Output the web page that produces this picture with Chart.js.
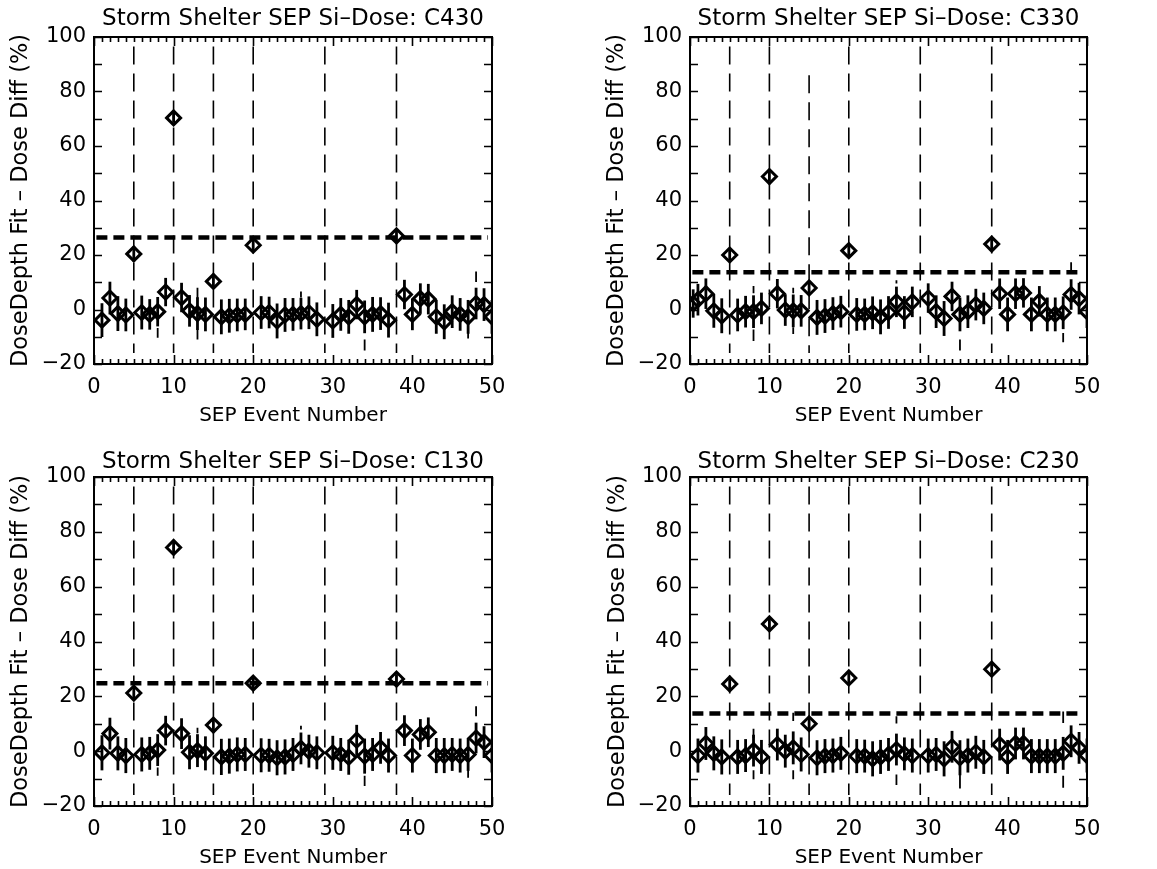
<!DOCTYPE html>
<html>
<head>
<meta charset="utf-8">
<script src="https://cdn.jsdelivr.net/npm/chart.js@4.4.1/dist/chart.umd.min.js"></script>
<style>
  html, body { margin: 0; padding: 0; background: #fff; }
  body { width: 1157px; height: 869px; position: relative; overflow: hidden; }
  .pane { position: absolute; }
</style>
</head>
<body>
<div class="pane" id="p1" style="left:0px;top:0px;width:578px;height:434px;"><canvas id="c1"></canvas></div>
<div class="pane" id="p2" style="left:578px;top:0px;width:579px;height:434px;"><canvas id="c2"></canvas></div>
<div class="pane" id="p3" style="left:0px;top:434px;width:578px;height:435px;"><canvas id="c3"></canvas></div>
<div class="pane" id="p4" style="left:578px;top:434px;width:579px;height:435px;"><canvas id="c4"></canvas></div>
<script>
// ---------------- DATA ----------------
const EVENTS = [1,2,3,4,5,6,7,8,9,10,11,12,13,14,15,16,17,18,19,20,21,22,23,24,25,26,27,28,
                30,31,32,33,34,35,36,37,38,39,40,41,42,43,44,45,46,47,48,49,50];
const EVENTS_C330 = [0.4,1,2,3,4,5,6,7,8,9,10,11,12,13,14,15,16,17,18,19,20,21,22,23,24,25,26,27,28,
                30,31,32,33,34,35,36,37,38,39,40,41,42,43,44,45,46,47,48,49,50];

const X_TICKS = [0, 10, 20, 30, 40, 50];
const Y_TICKS = [-20, 0, 20, 40, 60, 80, 100];

const C430_DIFF = [-3.9,4.2,-1.5,-2.0,20.4,-1.1,-1.8,-0.8,6.4,70.3,4.4,-0.5,-1.5,-1.8,10.3,-2.7,-2.3,-2.0,-1.8,23.6,
                   -1.1,-1.1,-4.2,-2.0,-1.8,-1.5,-1.2,-3.6,
                   -4.2,-1.8,-2.7,1.8,-2.7,-1.8,-1.5,-3.9,27.0,5.5,-1.8,4.0,3.8,-2.7,-4.5,-0.8,-1.8,-2.7,2.2,1.8,-2.7];
const C430_ERR  = [6.2,6.0,6.4,6.0,2.8,6.2,5.6,5.4,5.2,1.8,5.4,5.8,6.0,6.2,2.2,6.4,6.2,6.0,5.8,2.2,
                   6.0,5.8,6.4,6.2,6.0,5.8,6.0,6.2,
                   6.2,6.0,6.2,5.4,6.0,6.4,6.0,6.4,1.8,5.4,5.8,5.6,5.6,6.2,6.4,6.0,6.0,6.2,5.8,6.0,6.2];
const C430_THRESH = 26.4;
const C430_EXTRA_X  = [8, 13, 13, 26, 34, 47, 48];
const C430_EXTRA_LO = [-10.4, 4.0, -11.0, 4.4, -15.0, -10.6, 10.1];
const C430_EXTRA_HI = [-6.8, 8.0, -7.2, 6.6, -11.0, -8.0, 13.9];

const C330_DIFF = [2.2,3.6,5.8,-0.5,-2.3,20.0,-2.0,-0.8,-0.8,0.4,48.8,5.8,-0.2,-0.5,-0.5,7.9,-2.9,-2.4,-1.5,-0.8,21.6,
                   -1.8,-1.8,-1.2,-2.7,-1.1,2.8,-1.1,2.8,
                   4.2,-0.8,-3.3,4.8,-1.8,-0.8,1.8,0.4,24.0,5.8,-1.8,5.8,6.1,-1.8,3.0,-1.8,-1.8,-1.2,5.5,4.0,-0.8];
const C330_ERR  = [5.2,5.8,5.6,6.2,6.4,2.0,6.0,5.8,6.0,5.8,1.8,5.4,5.8,6.0,5.8,2.2,6.4,6.2,6.0,5.8,2.2,
                   6.0,5.8,6.0,6.4,6.0,5.6,6.0,5.6,
                   5.4,6.0,6.4,5.4,6.2,6.0,5.8,5.8,2.0,5.6,6.2,5.6,5.4,6.2,5.6,6.2,6.2,6.0,5.6,5.8,6.0];
const C330_THRESH = 13.7;
const C330_EXTRA_X  = [8, 8, 13, 13, 26, 34, 47, 48];
const C330_EXTRA_LO = [6.0, -11.6, 6.0, -9.0, 9.5, -15.0, -12.0, 13.7];
const C330_EXTRA_HI = [8.6, -7.3, 8.0, -6.5, 10.7, -11.0, -8.6, 17.3];

const C130_DIFF = [-0.6,6.4,-0.8,-1.6,21.2,-1.2,-0.8,0.4,7.5,74.3,6.4,-0.4,0.2,-0.8,9.5,-2.1,-1.8,-1.2,-1.2,24.8,
                   -1.5,-1.5,-2.4,-2.1,-1.2,1.0,0.0,-0.6,
                   -0.6,-1.2,-2.2,4.0,-1.8,-1.2,1.2,-1.6,26.3,7.5,-1.6,6.1,6.9,-1.6,-1.6,-1.2,-1.6,-1.2,4.8,3.3,-1.6];
const C130_ERR  = [6.4,5.8,6.2,6.4,2.2,6.2,6.0,5.8,5.4,2.2,5.6,6.2,6.0,6.2,2.4,6.6,6.4,6.2,6.0,1.8,
                   6.2,6.0,6.4,6.4,6.0,5.8,6.0,6.0,
                   6.2,6.0,6.4,5.6,6.4,6.0,5.8,6.2,1.8,5.6,6.2,5.6,5.4,6.4,6.4,6.0,6.2,6.0,5.6,5.8,6.2];
const C130_THRESH = 24.8;
const C130_EXTRA_X  = [8, 13, 26, 34, 47, 48];
const C130_EXTRA_LO = [-9.0, 6.5, 7.9, -12.7, -9.7, 12.7];
const C130_EXTRA_HI = [-6.0, 8.5, 9.3, -9.0, -7.0, 16.4];

const C230_DIFF = [-1.6,2.8,-0.8,-2.1,24.5,-2.1,-1.6,0.2,-2.1,46.4,2.4,0.0,1.2,-1.2,10.0,-2.4,-1.8,-1.6,-0.8,26.7,
                   -1.8,-1.8,-2.8,-2.1,-1.2,0.6,-1.0,-1.6,
                   -1.6,-1.2,-2.8,1.6,-2.4,-1.6,-0.4,-2.1,29.9,2.4,-2.1,2.8,2.8,-1.8,-1.8,-1.8,-1.8,-0.8,3.6,1.2,-1.6];
const C230_ERR  = [6.2,6.0,6.2,6.4,2.0,6.2,6.0,5.8,6.2,1.8,5.8,6.0,6.0,6.2,2.2,6.4,6.2,6.2,6.0,2.0,
                   6.2,6.0,6.4,6.2,6.0,5.8,6.0,6.2,
                   6.2,6.0,6.4,5.8,6.4,6.2,6.0,6.2,1.8,5.8,6.2,5.8,5.8,6.2,6.2,6.2,6.2,6.0,5.8,5.8,6.2];
const C230_THRESH = 13.7;
const C230_EXTRA_X  = [8, 8, 13, 13, 26, 26, 34, 47, 47];
const C230_EXTRA_LO = [4.8, -10.2, 11.0, -10.2, 10.1, -12.3, -13.6, 10.3, -13.3];
const C230_EXTRA_HI = [8.2, -7.0, 14.0, -7.0, 12.7, -8.5, -8.5, 14.5, -9.0];

const MARK_EVENTS = [5, 10, 15, 20, 29, 38];   // vertical dashed lines
const MARK_TOP = [96.5, 96.5, 96.5, 96.5, 96.5, 96.5];
const MARK_TOP_C330 = [96.5, 96.5, 86, 96.5, 96.5, 96.5];
const MARK_BOTTOM = -16;
const THRESH_SPAN = [0.3, 49.5];

// ---------------- RENDERING ----------------
const FONT = "'DejaVu Sans', 'Liberation Sans', sans-serif";
Chart.defaults.color = '#000';
Chart.defaults.font.family = FONT;

const errorBarPlugin = {
  id: 'errbars',
  beforeDatasetDraw(chart, args) {
    const ds = chart.data.datasets[args.index];
    if (!ds.errors) return;
    const {ctx, chartArea} = chart;
    const xs = chart.scales.x, ys = chart.scales.y;
    ctx.save();
    ctx.beginPath();
    ctx.rect(chartArea.left, chartArea.top, chartArea.right - chartArea.left, chartArea.bottom - chartArea.top);
    ctx.clip();
    ctx.strokeStyle = '#000';
    ctx.lineWidth = 2.8;
    ctx.lineCap = 'butt';
    ds.data.forEach((p, i) => {
      const e = ds.errors[i];
      const px = xs.getPixelForValue(p.x);
      ctx.beginPath();
      ctx.moveTo(px, ys.getPixelForValue(p.y + e));
      ctx.lineTo(px, ys.getPixelForValue(p.y - e));
      ctx.stroke();
    });
    ctx.restore();
  }
};

const frameTicksPlugin = {
  id: 'frameTicks',
  afterDraw(chart) {
    const {ctx, chartArea: a} = chart;
    const xs = chart.scales.x, ys = chart.scales.y;
    ctx.save();
    ctx.strokeStyle = '#000';
    ctx.lineWidth = 1.6;
    ctx.beginPath();
    for (let v = xs.min; v <= xs.max; v += 1) {
      const px = Math.round(xs.getPixelForValue(v)) + 0.5;
      const len = (v % 10 === 0) ? 9 : 5;
      ctx.moveTo(px, a.bottom); ctx.lineTo(px, a.bottom - len);
      ctx.moveTo(px, a.top); ctx.lineTo(px, a.top + len);
    }
    for (let v = ys.min; v <= ys.max; v += 10) {
      const py = Math.round(ys.getPixelForValue(v)) + 0.5;
      const len = 8;
      ctx.moveTo(a.left, py); ctx.lineTo(a.left + len, py);
      ctx.moveTo(a.right, py); ctx.lineTo(a.right - len, py);
    }
    ctx.stroke();
    ctx.lineWidth = 2;
    ctx.strokeRect(a.left, a.top, a.right - a.left, a.bottom - a.top);
    ctx.restore();
  }
};

function makeChart(canvasId, cfg) {
  const W = cfg.W, H = cfg.H;
  const pts = cfg.events.map((x, i) => ({x: x, y: cfg.diff[i]}));
  const vlines = [];
  MARK_EVENTS.forEach((m, i) => {
    vlines.push({x: m, y: cfg.markTop[i]});
    vlines.push({x: m, y: MARK_BOTTOM});
    vlines.push({x: m, y: null});
  });
  const extras = [];
  cfg.exX.forEach((x, i) => {
    extras.push({x: x, y: cfg.exHi[i]});
    extras.push({x: x, y: cfg.exLo[i]});
    extras.push({x: x, y: null});
  });
  const hline = [{x: THRESH_SPAN[0], y: cfg.thresh}, {x: THRESH_SPAN[1], y: cfg.thresh}];

  return new Chart(document.getElementById(canvasId), {
    type: 'scatter',
    data: {
      datasets: [
        { type: 'line', data: hline, borderColor: '#000', borderWidth: 4.5, borderDash: [11, 6],
          borderCapStyle: 'butt', pointRadius: 0, fill: false },
        { type: 'line', data: vlines, borderColor: '#000', borderWidth: 1.6, borderDash: [18, 9],
          borderCapStyle: 'butt', pointRadius: 0, fill: false, spanGaps: false },
        { type: 'line', data: extras, borderColor: '#000', borderWidth: 1.8,
          borderCapStyle: 'butt', pointRadius: 0, fill: false, spanGaps: false },
        { type: 'scatter', data: pts, errors: cfg.err, pointStyle: 'rectRot', pointRadius: 7,
          pointHoverRadius: 7, borderColor: '#000', backgroundColor: 'rgba(0,0,0,0)', pointBorderWidth: 3,
          borderWidth: 3 }
      ]
    },
    options: {
      responsive: false,
      animation: false,
      events: [],
      layout: { padding: { left: 0, right: W - cfg.right, top: 0, bottom: 0 } },
      plugins: {
        legend: { display: false },
        tooltip: { enabled: false },
        title: {
          display: true, text: cfg.title, fullSize: false,
          font: { family: FONT, size: 23, weight: 'normal', lineHeight: 1 },
          padding: { top: cfg.titleTop, bottom: cfg.top - cfg.titleTop - 23 }
        }
      },
      scales: {
        x: {
          type: 'linear', min: 0, max: 50,
          afterBuildTicks: (s) => { s.ticks = X_TICKS.map(v => ({value: v})); },
          grid: { display: false, drawTicks: false, tickLength: 0 },
          border: { display: false },
          ticks: { font: { family: FONT, size: 21 }, padding: 11, maxRotation: 0, autoSkip: false },
          title: { display: true, text: 'SEP Event Number', font: { family: FONT, size: 20, lineHeight: 1 },
                   padding: { top: 0, bottom: cfg.xTitleBottom } },
          afterFit: (s) => { s.height = H - cfg.bottom; }
        },
        y: {
          type: 'linear', min: -20, max: 100,
          afterBuildTicks: (s) => { s.ticks = Y_TICKS.map(v => ({value: v})); },
          grid: { display: false, drawTicks: false, tickLength: 0 },
          border: { display: false },
          ticks: { font: { family: FONT, size: 21 }, padding: 8, autoSkip: false,
                   callback: (v) => (v < 0 ? '\u2212' + Math.abs(v) : String(v)) },
          title: { display: true, text: 'DoseDepth Fit \u2013 Dose Diff (%)',
                   font: { family: FONT, size: 22.5, lineHeight: 1 },
                   padding: { top: cfg.yTitleLeft, bottom: 0 } },
          afterFit: (s) => { s.width = cfg.left; }
        }
      }
    },
    plugins: [errorBarPlugin, frameTicksPlugin]
  });
}

function sizeCanvas(id, W, H) {
  const c = document.getElementById(id);
  c.width = W; c.height = H;
  c.style.width = W + 'px'; c.style.height = H + 'px';
}

const PANELS = [
  { id: 'c1', W: 578, H: 434, left: 94, right: 492, top: 37, bottom: 364, titleTop: 8, xTitleBottom: 8, yTitleLeft: 10,
    title: 'Storm Shelter SEP Si\u2013Dose: C430', events: EVENTS, diff: C430_DIFF, err: C430_ERR, thresh: C430_THRESH,
    markTop: MARK_TOP, exX: C430_EXTRA_X, exLo: C430_EXTRA_LO, exHi: C430_EXTRA_HI },
  { id: 'c2', W: 579, H: 434, left: 112, right: 509, top: 37, bottom: 364, titleTop: 8, xTitleBottom: 8, yTitleLeft: 28,
    title: 'Storm Shelter SEP Si\u2013Dose: C330', events: EVENTS_C330, diff: C330_DIFF, err: C330_ERR, thresh: C330_THRESH,
    markTop: MARK_TOP_C330, exX: C330_EXTRA_X, exLo: C330_EXTRA_LO, exHi: C330_EXTRA_HI },
  { id: 'c3', W: 578, H: 435, left: 94, right: 492, top: 43, bottom: 372, titleTop: 17, xTitleBottom: 1, yTitleLeft: 10,
    title: 'Storm Shelter SEP Si\u2013Dose: C130', events: EVENTS, diff: C130_DIFF, err: C130_ERR, thresh: C130_THRESH,
    markTop: MARK_TOP, exX: C130_EXTRA_X, exLo: C130_EXTRA_LO, exHi: C130_EXTRA_HI },
  { id: 'c4', W: 579, H: 435, left: 112, right: 509, top: 43, bottom: 372, titleTop: 17, xTitleBottom: 1, yTitleLeft: 29,
    title: 'Storm Shelter SEP Si\u2013Dose: C230', events: EVENTS, diff: C230_DIFF, err: C230_ERR, thresh: C230_THRESH,
    markTop: MARK_TOP, exX: C230_EXTRA_X, exLo: C230_EXTRA_LO, exHi: C230_EXTRA_HI }
];

PANELS.forEach(p => { sizeCanvas(p.id, p.W, p.H); makeChart(p.id, p); });
</script>
</body>
</html>
